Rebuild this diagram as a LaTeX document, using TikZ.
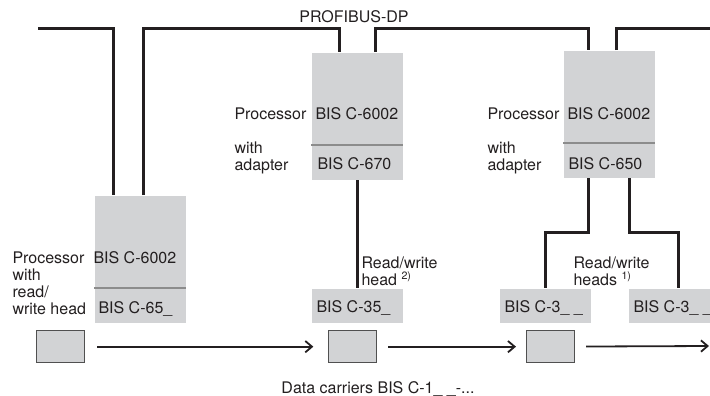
\documentclass[tikz,border=0pt]{standalone}
\usepackage{fontspec}
\setmainfont{TeX Gyre Heros}
\usetikzlibrary{arrows.meta,calc}

\definecolor{boxgray}{RGB}{210,211,213}
\definecolor{linedark}{RGB}{35,31,32}
\definecolor{divgray}{RGB}{140,140,140}
\definecolor{carrierline}{RGB}{80,80,80}

\tikzset{every picture/.style={line width=0.75pt}}
\tikzset{
	box/.style={fill=boxgray, inner sep=0pt, anchor=north west, minimum width=68.25pt},
	procbox/.style={box, minimum height=69.75pt},
	adptbox/.style={box, minimum height=25.5pt},
	carrier/.style={draw=carrierline, fill=boxgray, line width=1pt, inner sep=0pt, anchor=north west, minimum width=36pt, minimum height=24pt},
	bus/.style={draw=linedark, line width=2.25pt},
	divider/.style={draw=divgray, line width=0.9pt},
	flow/.style={draw=linedark, line width=1.35pt, -{Straight Barb[length=5pt,width=8.5pt]}},
	lbl/.style={anchor=base west, inner sep=0pt, align=left, text=linedark, font=\fontsize{12}{12.75}\selectfont},
}

\begin{document}
\begin{tikzpicture}[x=0.75pt,y=0.75pt,yscale=-1,xscale=1]
		\useasboundingbox (0,0) rectangle (710,396);
		\clip (0,0) rectangle (710,396);
		
		%Processors with adapters
		\node[procbox] (proc1) at (94,195) {};
		\node[adptbox] (adpt1) at (94,288) {};
		\node[procbox] (proc2) at (311,52) {};
		\node[adptbox] (adpt2) at (311,145) {};
		\node[procbox] (proc3) at (563,50) {};
		\node[adptbox] (adpt3) at (563,143) {};
		\draw[divider] (adpt1.north west) -- (adpt1.north east);
		\draw[divider] (adpt2.north west) -- (adpt2.north east);
		\draw[divider] (adpt3.north west) -- (adpt3.north east);
		
		%Read/write heads
		\node[adptbox] (head2) at (311,288) {};
		\node[adptbox] (head3a) at (499,288) {};
		\node[adptbox, minimum width=75pt] (head3b) at (628,288) {};
		
		%Data carriers
		\node[carrier] (car1) at (36,330) {};
		\node[carrier] (car2) at (328,330) {};
		\node[carrier] (car3) at (526,330) {};
		\coordinate (carend) at (709,346);
		
		%PROFIBUS-DP
		\coordinate (busW) at (38,28);
		\coordinate (busE) at (712,28);
		\coordinate (p1a) at ($(proc1.north west)+(19,0)$);
		\coordinate (p1b) at ($(proc1.north west)+(49,0)$);
		\coordinate (p2a) at ($(proc2.north west)+(28,0)$);
		\coordinate (p2b) at ($(proc2.north west)+(64,0)$);
		\coordinate (p3a) at ($(proc3.north west)+(25,0)$);
		\coordinate (p3b) at ($(proc3.north west)+(53,0)$);
		\draw[bus] (busW) -| (p1a);
		\draw[bus] (p1b) -- (p1b |- busW) -| (p2a);
		\draw[bus] (p2b) -- (p2b |- busW) -| (p3a);
		\draw[bus] (p3b) -- (p3b |- busW) -- (busE);
		
		%heads below the adapters
		\coordinate (a3a) at ($(adpt3.south west)+(25,0)$);
		\coordinate (a3b) at ($(adpt3.south west)+(66,0)$);
		\coordinate (split) at (0,232);
		\draw[bus] (adpt2.south) -- (head2.north);
		\draw[bus] (a3a) -- (a3a |- split) -| (head3a.north);
		\draw[bus] (a3b) -- (a3b |- split) -| (head3b.north);
		
		\draw[flow, shorten <=9pt, shorten >=11pt] (car1) -- (car2);
		\draw[flow, shorten <=8pt, shorten >=7.5pt] (car2) -- (car3);
		\draw[flow, shorten <=8pt] (car3) -- (carend);
		
		\node[lbl, anchor=base] (profibus) at (354,22) {PROFIBUS-DP};
		\node[lbl] (t1a) at (93,263) {BIS C-6002};
		\node[lbl] (t1b) at (98,313) {BIS C-65\_};
		\node[lbl] (t2a) at (315,119) {BIS C-6002};
		\node[lbl] (t2b) at (317,169) {BIS C-670};
		\node[lbl] (t3a) at (567,119) {BIS C-6002};
		\node[lbl] (t3b) at (568,169) {BIS C-650};
		\node[lbl] (th2) at (316,312) {BIS C-35\_};
		\node[lbl] (th3a) at (504,312) {BIS C-3\_\ \_};
		\node[lbl] (th3b) at (633,312) {BIS C-3\_\ \_};
		% multi-line labels sit on the baseline of their last line
		\node[lbl] (l1) at (12,314) {Processor\\with\\read/\\write head};
		\node[lbl] (l2) at (234,119) {Processor};
		\node[lbl] (l2b) at (234,170) {with\\adapter};
		\node[lbl] (l3) at (487,119) {Processor};
		\node[lbl] (l3b) at (487,170) {with\\adapter};
		\node[lbl] (rw2) at (361,285) {Read/write\\head \textsuperscript{2)}};
		\node[lbl] (rw3) at (573,285) {Read/write\\heads \textsuperscript{1)}};
		\node[lbl, anchor=base] (carriers) at (378,393) {Data carriers BIS C-1\_\ \_-...};
		
	\end{tikzpicture}
\end{document}
